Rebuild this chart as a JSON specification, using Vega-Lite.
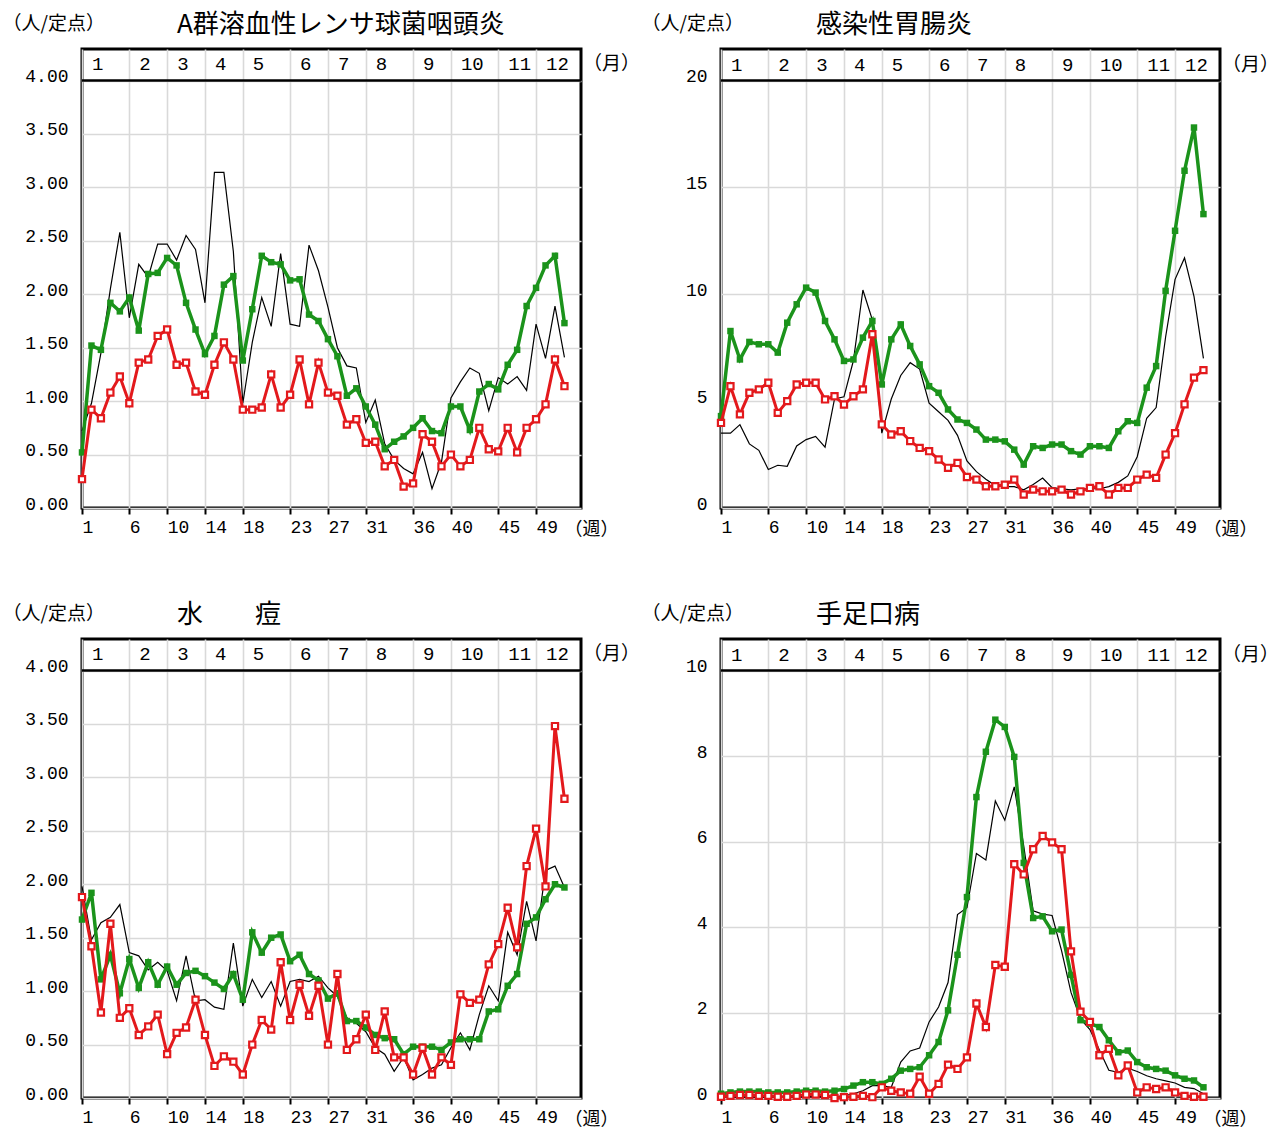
{
"$schema":"https://vega.github.io/schema/vega-lite/v6.json",
"background":"white",
"padding":{"left":0,"top":10,"right":5,"bottom":5},
"columns":2,
"spacing":{"row":131,"column":140},
"bounds":"flush",
"config":{
"view":{"stroke":"#000","strokeWidth":3},
"axis":{"gridColor":"#d9d9d9","gridWidth":1.6,"gridOpacity":1,"domain":false,"labelFont":"Liberation Mono","labelFontSize":18,"labelColor":"#000","titleFont":"Noto Sans CJK JP","titleFontSize":19,"titleFontWeight":"normal","titleColor":"#000"},
"axisX":{"ticks":true,"tickColor":"#000","tickSize":6,"tickWidth":2,"labelAlign":"left","labelPadding":4,"labelOffset":0,"labelBaseline":"top","labelOverlap":false,"labelFlush":false},
"axisY":{"ticks":false,"labelPadding":14,"labelBaseline":"middle","labelOffset":-4,"labelOverlap":false},
"title":{"font":"Noto Sans CJK JP","fontSize":26,"fontWeight":"normal","color":"#000","anchor":"start","frame":"group","dx":95,"offset":-24}
},
"datasets":{
"months":[{"m":"1","w":1},{"m":"2","w":6},{"m":"3","w":10},{"m":"4","w":14},{"m":"5","w":18},{"m":"6","w":23},{"m":"7","w":27},{"m":"8","w":31},{"m":"9","w":36},{"m":"10","w":40},{"m":"11","w":45},{"m":"12","w":49}],
"A":[
{"w":1,"s":"k","v":0.72},{"w":2,"s":"k","v":0.98},{"w":3,"s":"k","v":1.45},{"w":4,"s":"k","v":2.05},{"w":5,"s":"k","v":2.58},{"w":6,"s":"k","v":1.78},{"w":7,"s":"k","v":2.28},{"w":8,"s":"k","v":2.16},{"w":9,"s":"k","v":2.47},{"w":10,"s":"k","v":2.47},
{"w":11,"s":"k","v":2.32},{"w":12,"s":"k","v":2.55},{"w":13,"s":"k","v":2.42},{"w":14,"s":"k","v":1.92},{"w":15,"s":"k","v":3.14},{"w":16,"s":"k","v":3.14},{"w":17,"s":"k","v":2.40},{"w":18,"s":"k","v":0.98},{"w":19,"s":"k","v":1.55},{"w":20,"s":"k","v":1.97},
{"w":21,"s":"k","v":1.70},{"w":22,"s":"k","v":2.38},{"w":23,"s":"k","v":1.72},{"w":24,"s":"k","v":1.70},{"w":25,"s":"k","v":2.46},{"w":26,"s":"k","v":2.22},{"w":27,"s":"k","v":1.88},{"w":28,"s":"k","v":1.50},{"w":29,"s":"k","v":1.33},{"w":30,"s":"k","v":1.31},
{"w":31,"s":"k","v":0.80},{"w":32,"s":"k","v":1.01},{"w":33,"s":"k","v":0.60},{"w":34,"s":"k","v":0.45},{"w":35,"s":"k","v":0.37},{"w":36,"s":"k","v":0.32},{"w":37,"s":"k","v":0.52},{"w":38,"s":"k","v":0.18},{"w":39,"s":"k","v":0.43},{"w":40,"s":"k","v":1.03},
{"w":41,"s":"k","v":1.18},{"w":42,"s":"k","v":1.31},{"w":43,"s":"k","v":1.26},{"w":44,"s":"k","v":0.91},{"w":45,"s":"k","v":1.22},{"w":46,"s":"k","v":1.16},{"w":47,"s":"k","v":1.23},{"w":48,"s":"k","v":1.10},{"w":49,"s":"k","v":1.72},{"w":50,"s":"k","v":1.40},
{"w":51,"s":"k","v":1.89},{"w":52,"s":"k","v":1.41},
{"w":1,"s":"g","v":0.52},{"w":2,"s":"g","v":1.52},{"w":3,"s":"g","v":1.48},{"w":4,"s":"g","v":1.92},{"w":5,"s":"g","v":1.84},{"w":6,"s":"g","v":1.97},{"w":7,"s":"g","v":1.66},{"w":8,"s":"g","v":2.19},{"w":9,"s":"g","v":2.20},{"w":10,"s":"g","v":2.34},
{"w":11,"s":"g","v":2.27},{"w":12,"s":"g","v":1.92},{"w":13,"s":"g","v":1.67},{"w":14,"s":"g","v":1.44},{"w":15,"s":"g","v":1.61},{"w":16,"s":"g","v":2.09},{"w":17,"s":"g","v":2.17},{"w":18,"s":"g","v":1.38},{"w":19,"s":"g","v":1.86},{"w":20,"s":"g","v":2.36},
{"w":21,"s":"g","v":2.30},{"w":22,"s":"g","v":2.28},{"w":23,"s":"g","v":2.13},{"w":24,"s":"g","v":2.14},{"w":25,"s":"g","v":1.81},{"w":26,"s":"g","v":1.75},{"w":27,"s":"g","v":1.58},{"w":28,"s":"g","v":1.42},{"w":29,"s":"g","v":1.05},{"w":30,"s":"g","v":1.12},
{"w":31,"s":"g","v":0.95},{"w":32,"s":"g","v":0.78},{"w":33,"s":"g","v":0.55},{"w":34,"s":"g","v":0.62},{"w":35,"s":"g","v":0.67},{"w":36,"s":"g","v":0.75},{"w":37,"s":"g","v":0.84},{"w":38,"s":"g","v":0.72},{"w":39,"s":"g","v":0.70},{"w":40,"s":"g","v":0.95},
{"w":41,"s":"g","v":0.95},{"w":42,"s":"g","v":0.73},{"w":43,"s":"g","v":1.09},{"w":44,"s":"g","v":1.16},{"w":45,"s":"g","v":1.11},{"w":46,"s":"g","v":1.34},{"w":47,"s":"g","v":1.48},{"w":48,"s":"g","v":1.89},{"w":49,"s":"g","v":2.06},{"w":50,"s":"g","v":2.27},
{"w":51,"s":"g","v":2.36},{"w":52,"s":"g","v":1.73},
{"w":1,"s":"r","v":0.27},{"w":2,"s":"r","v":0.92},{"w":3,"s":"r","v":0.84},{"w":4,"s":"r","v":1.08},{"w":5,"s":"r","v":1.23},{"w":6,"s":"r","v":0.98},{"w":7,"s":"r","v":1.36},{"w":8,"s":"r","v":1.39},{"w":9,"s":"r","v":1.61},{"w":10,"s":"r","v":1.67},
{"w":11,"s":"r","v":1.34},{"w":12,"s":"r","v":1.36},{"w":13,"s":"r","v":1.09},{"w":14,"s":"r","v":1.06},{"w":15,"s":"r","v":1.34},{"w":16,"s":"r","v":1.55},{"w":17,"s":"r","v":1.39},{"w":18,"s":"r","v":0.92},{"w":19,"s":"r","v":0.92},{"w":20,"s":"r","v":0.94},
{"w":21,"s":"r","v":1.25},{"w":22,"s":"r","v":0.94},{"w":23,"s":"r","v":1.06},{"w":24,"s":"r","v":1.39},{"w":25,"s":"r","v":0.97},{"w":26,"s":"r","v":1.36},{"w":27,"s":"r","v":1.08},{"w":28,"s":"r","v":1.05},{"w":29,"s":"r","v":0.78},{"w":30,"s":"r","v":0.83},
{"w":31,"s":"r","v":0.61},{"w":32,"s":"r","v":0.62},{"w":33,"s":"r","v":0.39},{"w":34,"s":"r","v":0.45},{"w":35,"s":"r","v":0.20},{"w":36,"s":"r","v":0.23},{"w":37,"s":"r","v":0.69},{"w":38,"s":"r","v":0.62},{"w":39,"s":"r","v":0.39},{"w":40,"s":"r","v":0.50},
{"w":41,"s":"r","v":0.39},{"w":42,"s":"r","v":0.45},{"w":43,"s":"r","v":0.75},{"w":44,"s":"r","v":0.55},{"w":45,"s":"r","v":0.53},{"w":46,"s":"r","v":0.75},{"w":47,"s":"r","v":0.52},{"w":48,"s":"r","v":0.75},{"w":49,"s":"r","v":0.83},{"w":50,"s":"r","v":0.97},
{"w":51,"s":"r","v":1.39},{"w":52,"s":"r","v":1.14}
],
"B":[
{"w":1,"s":"k","v":3.5},{"w":2,"s":"k","v":3.5},{"w":3,"s":"k","v":3.9},{"w":4,"s":"k","v":3.0},{"w":5,"s":"k","v":2.7},{"w":6,"s":"k","v":1.8},{"w":7,"s":"k","v":2.0},{"w":8,"s":"k","v":1.95},{"w":9,"s":"k","v":2.9},{"w":10,"s":"k","v":3.2},
{"w":11,"s":"k","v":3.35},{"w":12,"s":"k","v":2.85},{"w":13,"s":"k","v":5.1},{"w":14,"s":"k","v":5.2},{"w":15,"s":"k","v":6.9},{"w":16,"s":"k","v":10.2},{"w":17,"s":"k","v":8.8},{"w":18,"s":"k","v":3.5},{"w":19,"s":"k","v":5.1},{"w":20,"s":"k","v":6.2},
{"w":21,"s":"k","v":6.8},{"w":22,"s":"k","v":6.5},{"w":23,"s":"k","v":4.9},{"w":24,"s":"k","v":4.5},{"w":25,"s":"k","v":4.1},{"w":26,"s":"k","v":3.4},{"w":27,"s":"k","v":2.2},{"w":28,"s":"k","v":1.7},{"w":29,"s":"k","v":1.35},{"w":30,"s":"k","v":1.05},
{"w":31,"s":"k","v":1.0},{"w":32,"s":"k","v":1.0},{"w":33,"s":"k","v":0.85},{"w":34,"s":"k","v":1.1},{"w":35,"s":"k","v":1.4},{"w":36,"s":"k","v":0.95},{"w":37,"s":"k","v":0.9},{"w":38,"s":"k","v":0.85},{"w":39,"s":"k","v":0.9},{"w":40,"s":"k","v":0.9},
{"w":41,"s":"k","v":0.9},{"w":42,"s":"k","v":1.0},{"w":43,"s":"k","v":1.2},{"w":44,"s":"k","v":1.5},{"w":45,"s":"k","v":2.4},{"w":46,"s":"k","v":4.2},{"w":47,"s":"k","v":4.7},{"w":48,"s":"k","v":8.0},{"w":49,"s":"k","v":10.7},{"w":50,"s":"k","v":11.7},
{"w":51,"s":"k","v":9.9},{"w":52,"s":"k","v":7.0},
{"w":1,"s":"g","v":4.3},{"w":2,"s":"g","v":8.28},{"w":3,"s":"g","v":6.95},{"w":4,"s":"g","v":7.77},{"w":5,"s":"g","v":7.66},{"w":6,"s":"g","v":7.66},{"w":7,"s":"g","v":7.27},{"w":8,"s":"g","v":8.67},{"w":9,"s":"g","v":9.53},{"w":10,"s":"g","v":10.31},
{"w":11,"s":"g","v":10.08},{"w":12,"s":"g","v":8.75},{"w":13,"s":"g","v":7.89},{"w":14,"s":"g","v":6.88},{"w":15,"s":"g","v":6.95},{"w":16,"s":"g","v":7.97},{"w":17,"s":"g","v":8.75},{"w":18,"s":"g","v":5.78},{"w":19,"s":"g","v":7.89},{"w":20,"s":"g","v":8.59},
{"w":21,"s":"g","v":7.58},{"w":22,"s":"g","v":6.72},{"w":23,"s":"g","v":5.70},{"w":24,"s":"g","v":5.39},{"w":25,"s":"g","v":4.61},{"w":26,"s":"g","v":4.14},{"w":27,"s":"g","v":3.98},{"w":28,"s":"g","v":3.67},{"w":29,"s":"g","v":3.20},{"w":30,"s":"g","v":3.20},
{"w":31,"s":"g","v":3.12},{"w":32,"s":"g","v":2.73},{"w":33,"s":"g","v":2.03},{"w":34,"s":"g","v":2.89},{"w":35,"s":"g","v":2.81},{"w":36,"s":"g","v":2.97},{"w":37,"s":"g","v":2.97},{"w":38,"s":"g","v":2.66},{"w":39,"s":"g","v":2.50},{"w":40,"s":"g","v":2.89},
{"w":41,"s":"g","v":2.89},{"w":42,"s":"g","v":2.81},{"w":43,"s":"g","v":3.59},{"w":44,"s":"g","v":4.06},{"w":45,"s":"g","v":3.98},{"w":46,"s":"g","v":5.63},{"w":47,"s":"g","v":6.64},{"w":48,"s":"g","v":10.16},{"w":49,"s":"g","v":12.97},{"w":50,"s":"g","v":15.78},
{"w":51,"s":"g","v":17.8},{"w":52,"s":"g","v":13.75},
{"w":1,"s":"r","v":3.98},{"w":2,"s":"r","v":5.70},{"w":3,"s":"r","v":4.38},{"w":4,"s":"r","v":5.39},{"w":5,"s":"r","v":5.55},{"w":6,"s":"r","v":5.86},{"w":7,"s":"r","v":4.45},{"w":8,"s":"r","v":5.0},{"w":9,"s":"r","v":5.78},{"w":10,"s":"r","v":5.86},
{"w":11,"s":"r","v":5.86},{"w":12,"s":"r","v":5.08},{"w":13,"s":"r","v":5.23},{"w":14,"s":"r","v":4.84},{"w":15,"s":"r","v":5.23},{"w":16,"s":"r","v":5.55},{"w":17,"s":"r","v":8.13},{"w":18,"s":"r","v":3.91},{"w":19,"s":"r","v":3.44},{"w":20,"s":"r","v":3.59},
{"w":21,"s":"r","v":3.13},{"w":22,"s":"r","v":2.81},{"w":23,"s":"r","v":2.66},{"w":24,"s":"r","v":2.27},{"w":25,"s":"r","v":1.88},{"w":26,"s":"r","v":2.11},{"w":27,"s":"r","v":1.45},{"w":28,"s":"r","v":1.33},{"w":29,"s":"r","v":1.02},{"w":30,"s":"r","v":1.02},
{"w":31,"s":"r","v":1.09},{"w":32,"s":"r","v":1.33},{"w":33,"s":"r","v":0.63},{"w":34,"s":"r","v":0.86},{"w":35,"s":"r","v":0.78},{"w":36,"s":"r","v":0.78},{"w":37,"s":"r","v":0.86},{"w":38,"s":"r","v":0.63},{"w":39,"s":"r","v":0.78},{"w":40,"s":"r","v":0.94},
{"w":41,"s":"r","v":1.02},{"w":42,"s":"r","v":0.63},{"w":43,"s":"r","v":0.94},{"w":44,"s":"r","v":0.94},{"w":45,"s":"r","v":1.33},{"w":46,"s":"r","v":1.56},{"w":47,"s":"r","v":1.41},{"w":48,"s":"r","v":2.5},{"w":49,"s":"r","v":3.5},{"w":50,"s":"r","v":4.85},
{"w":51,"s":"r","v":6.1},{"w":52,"s":"r","v":6.45}
],
"C":[
{"w":1,"s":"k","v":1.98},{"w":2,"s":"k","v":1.48},{"w":3,"s":"k","v":1.64},{"w":4,"s":"k","v":1.69},{"w":5,"s":"k","v":1.81},{"w":6,"s":"k","v":1.36},{"w":7,"s":"k","v":1.33},{"w":8,"s":"k","v":1.20},{"w":9,"s":"k","v":1.27},{"w":10,"s":"k","v":1.19},
{"w":11,"s":"k","v":0.91},{"w":12,"s":"k","v":1.33},{"w":13,"s":"k","v":0.91},{"w":14,"s":"k","v":0.92},{"w":15,"s":"k","v":0.85},{"w":16,"s":"k","v":0.83},{"w":17,"s":"k","v":1.45},{"w":18,"s":"k","v":0.86},{"w":19,"s":"k","v":1.11},{"w":20,"s":"k","v":0.94},
{"w":21,"s":"k","v":1.09},{"w":22,"s":"k","v":0.86},{"w":23,"s":"k","v":1.09},{"w":24,"s":"k","v":1.11},{"w":25,"s":"k","v":1.09},{"w":26,"s":"k","v":1.14},{"w":27,"s":"k","v":1.03},{"w":28,"s":"k","v":0.95},{"w":29,"s":"k","v":0.75},{"w":30,"s":"k","v":0.70},
{"w":31,"s":"k","v":0.62},{"w":32,"s":"k","v":0.47},{"w":33,"s":"k","v":0.41},{"w":34,"s":"k","v":0.25},{"w":35,"s":"k","v":0.38},{"w":36,"s":"k","v":0.17},{"w":37,"s":"k","v":0.22},{"w":38,"s":"k","v":0.28},{"w":39,"s":"k","v":0.31},{"w":40,"s":"k","v":0.47},
{"w":41,"s":"k","v":0.61},{"w":42,"s":"k","v":0.45},{"w":43,"s":"k","v":0.78},{"w":44,"s":"k","v":1.05},{"w":45,"s":"k","v":0.91},{"w":46,"s":"k","v":1.55},{"w":47,"s":"k","v":1.34},{"w":48,"s":"k","v":1.84},{"w":49,"s":"k","v":1.47},{"w":50,"s":"k","v":2.13},
{"w":51,"s":"k","v":2.17},{"w":52,"s":"k","v":1.97},
{"w":1,"s":"g","v":1.67},{"w":2,"s":"g","v":1.92},{"w":3,"s":"g","v":1.11},{"w":4,"s":"g","v":1.34},{"w":5,"s":"g","v":0.98},{"w":6,"s":"g","v":1.30},{"w":7,"s":"g","v":1.03},{"w":8,"s":"g","v":1.27},{"w":9,"s":"g","v":1.06},{"w":10,"s":"g","v":1.23},
{"w":11,"s":"g","v":1.06},{"w":12,"s":"g","v":1.17},{"w":13,"s":"g","v":1.19},{"w":14,"s":"g","v":1.14},{"w":15,"s":"g","v":1.08},{"w":16,"s":"g","v":1.02},{"w":17,"s":"g","v":1.16},{"w":18,"s":"g","v":0.92},{"w":19,"s":"g","v":1.55},{"w":20,"s":"g","v":1.36},
{"w":21,"s":"g","v":1.50},{"w":22,"s":"g","v":1.53},{"w":23,"s":"g","v":1.28},{"w":24,"s":"g","v":1.34},{"w":25,"s":"g","v":1.16},{"w":26,"s":"g","v":1.10},{"w":27,"s":"g","v":0.93},{"w":28,"s":"g","v":0.98},{"w":29,"s":"g","v":0.72},{"w":30,"s":"g","v":0.72},
{"w":31,"s":"g","v":0.66},{"w":32,"s":"g","v":0.59},{"w":33,"s":"g","v":0.56},{"w":34,"s":"g","v":0.55},{"w":35,"s":"g","v":0.41},{"w":36,"s":"g","v":0.48},{"w":37,"s":"g","v":0.48},{"w":38,"s":"g","v":0.48},{"w":39,"s":"g","v":0.45},{"w":40,"s":"g","v":0.52},
{"w":41,"s":"g","v":0.55},{"w":42,"s":"g","v":0.55},{"w":43,"s":"g","v":0.55},{"w":44,"s":"g","v":0.81},{"w":45,"s":"g","v":0.83},{"w":46,"s":"g","v":1.05},{"w":47,"s":"g","v":1.16},{"w":48,"s":"g","v":1.63},{"w":49,"s":"g","v":1.69},{"w":50,"s":"g","v":1.86},
{"w":51,"s":"g","v":2.0},{"w":52,"s":"g","v":1.97},
{"w":1,"s":"r","v":1.88},{"w":2,"s":"r","v":1.42},{"w":3,"s":"r","v":0.80},{"w":4,"s":"r","v":1.63},{"w":5,"s":"r","v":0.75},{"w":6,"s":"r","v":0.84},{"w":7,"s":"r","v":0.59},{"w":8,"s":"r","v":0.67},{"w":9,"s":"r","v":0.78},{"w":10,"s":"r","v":0.41},
{"w":11,"s":"r","v":0.61},{"w":12,"s":"r","v":0.66},{"w":13,"s":"r","v":0.92},{"w":14,"s":"r","v":0.59},{"w":15,"s":"r","v":0.30},{"w":16,"s":"r","v":0.39},{"w":17,"s":"r","v":0.34},{"w":18,"s":"r","v":0.22},{"w":19,"s":"r","v":0.50},{"w":20,"s":"r","v":0.73},
{"w":21,"s":"r","v":0.64},{"w":22,"s":"r","v":1.27},{"w":23,"s":"r","v":0.73},{"w":24,"s":"r","v":1.06},{"w":25,"s":"r","v":0.77},{"w":26,"s":"r","v":1.05},{"w":27,"s":"r","v":0.50},{"w":28,"s":"r","v":1.16},{"w":29,"s":"r","v":0.45},{"w":30,"s":"r","v":0.55},
{"w":31,"s":"r","v":0.78},{"w":32,"s":"r","v":0.45},{"w":33,"s":"r","v":0.81},{"w":34,"s":"r","v":0.38},{"w":35,"s":"r","v":0.38},{"w":36,"s":"r","v":0.22},{"w":37,"s":"r","v":0.47},{"w":38,"s":"r","v":0.22},{"w":39,"s":"r","v":0.38},{"w":40,"s":"r","v":0.31},
{"w":41,"s":"r","v":0.97},{"w":42,"s":"r","v":0.89},{"w":43,"s":"r","v":0.92},{"w":44,"s":"r","v":1.25},{"w":45,"s":"r","v":1.44},{"w":46,"s":"r","v":1.78},{"w":47,"s":"r","v":1.41},{"w":48,"s":"r","v":2.17},{"w":49,"s":"r","v":2.52},{"w":50,"s":"r","v":1.98},
{"w":51,"s":"r","v":3.48},{"w":52,"s":"r","v":2.80}
],
"D":[
{"w":1,"s":"k","v":0.02},{"w":2,"s":"k","v":0.02},{"w":3,"s":"k","v":0.02},{"w":4,"s":"k","v":0.02},{"w":5,"s":"k","v":0.02},{"w":6,"s":"k","v":0.02},{"w":7,"s":"k","v":0.02},{"w":8,"s":"k","v":0.02},{"w":9,"s":"k","v":0.03},{"w":10,"s":"k","v":0.03},
{"w":11,"s":"k","v":0.03},{"w":12,"s":"k","v":0.03},{"w":13,"s":"k","v":0.03},{"w":14,"s":"k","v":0.05},{"w":15,"s":"k","v":0.1},{"w":16,"s":"k","v":0.17},{"w":17,"s":"k","v":0.29},{"w":18,"s":"k","v":0.29},{"w":19,"s":"k","v":0.25},{"w":20,"s":"k","v":0.84},
{"w":21,"s":"k","v":1.1},{"w":22,"s":"k","v":1.17},{"w":23,"s":"k","v":1.78},{"w":24,"s":"k","v":2.13},{"w":25,"s":"k","v":2.7},{"w":26,"s":"k","v":4.29},{"w":27,"s":"k","v":4.45},{"w":28,"s":"k","v":5.72},{"w":29,"s":"k","v":5.57},{"w":30,"s":"k","v":6.95},
{"w":31,"s":"k","v":6.5},{"w":32,"s":"k","v":7.28},{"w":33,"s":"k","v":5.9},{"w":34,"s":"k","v":4.38},{"w":35,"s":"k","v":4.3},{"w":36,"s":"k","v":4.27},{"w":37,"s":"k","v":3.45},{"w":38,"s":"k","v":2.47},{"w":39,"s":"k","v":1.85},{"w":40,"s":"k","v":1.6},
{"w":41,"s":"k","v":1.12},{"w":42,"s":"k","v":0.65},{"w":43,"s":"k","v":0.6},{"w":44,"s":"k","v":0.7},{"w":45,"s":"k","v":0.62},{"w":46,"s":"k","v":0.52},{"w":47,"s":"k","v":0.45},{"w":48,"s":"k","v":0.4},{"w":49,"s":"k","v":0.35},{"w":50,"s":"k","v":0.25},
{"w":51,"s":"k","v":0.22},{"w":52,"s":"k","v":0.1},
{"w":1,"s":"g","v":0.1},{"w":2,"s":"g","v":0.13},{"w":3,"s":"g","v":0.15},{"w":4,"s":"g","v":0.15},{"w":5,"s":"g","v":0.15},{"w":6,"s":"g","v":0.13},{"w":7,"s":"g","v":0.13},{"w":8,"s":"g","v":0.13},{"w":9,"s":"g","v":0.15},{"w":10,"s":"g","v":0.17},
{"w":11,"s":"g","v":0.17},{"w":12,"s":"g","v":0.15},{"w":13,"s":"g","v":0.17},{"w":14,"s":"g","v":0.21},{"w":15,"s":"g","v":0.29},{"w":16,"s":"g","v":0.37},{"w":17,"s":"g","v":0.37},{"w":18,"s":"g","v":0.33},{"w":19,"s":"g","v":0.45},{"w":20,"s":"g","v":0.64},
{"w":21,"s":"g","v":0.68},{"w":22,"s":"g","v":0.72},{"w":23,"s":"g","v":1.0},{"w":24,"s":"g","v":1.31},{"w":25,"s":"g","v":2.05},{"w":26,"s":"g","v":3.35},{"w":27,"s":"g","v":4.7},{"w":28,"s":"g","v":7.04},{"w":29,"s":"g","v":8.1},{"w":30,"s":"g","v":8.85},
{"w":31,"s":"g","v":8.68},{"w":32,"s":"g","v":7.98},{"w":33,"s":"g","v":5.5},{"w":34,"s":"g","v":4.21},{"w":35,"s":"g","v":4.25},{"w":36,"s":"g","v":3.9},{"w":37,"s":"g","v":3.94},{"w":38,"s":"g","v":2.88},{"w":39,"s":"g","v":1.82},{"w":40,"s":"g","v":1.74},
{"w":41,"s":"g","v":1.66},{"w":42,"s":"g","v":1.35},{"w":43,"s":"g","v":1.07},{"w":44,"s":"g","v":1.11},{"w":45,"s":"g","v":0.84},{"w":46,"s":"g","v":0.72},{"w":47,"s":"g","v":0.68},{"w":48,"s":"g","v":0.64},{"w":49,"s":"g","v":0.53},{"w":50,"s":"g","v":0.45},
{"w":51,"s":"g","v":0.41},{"w":52,"s":"g","v":0.25},
{"w":1,"s":"r","v":0.03},{"w":2,"s":"r","v":0.05},{"w":3,"s":"r","v":0.07},{"w":4,"s":"r","v":0.07},{"w":5,"s":"r","v":0.05},{"w":6,"s":"r","v":0.05},{"w":7,"s":"r","v":0.03},{"w":8,"s":"r","v":0.03},{"w":9,"s":"r","v":0.05},{"w":10,"s":"r","v":0.08},
{"w":11,"s":"r","v":0.08},{"w":12,"s":"r","v":0.07},{"w":13,"s":"r","v":0.0},{"w":14,"s":"r","v":0.02},{"w":15,"s":"r","v":0.03},{"w":16,"s":"r","v":0.05},{"w":17,"s":"r","v":0.02},{"w":18,"s":"r","v":0.25},{"w":19,"s":"r","v":0.17},{"w":20,"s":"r","v":0.13},
{"w":21,"s":"r","v":0.1},{"w":22,"s":"r","v":0.5},{"w":23,"s":"r","v":0.1},{"w":24,"s":"r","v":0.33},{"w":25,"s":"r","v":0.78},{"w":26,"s":"r","v":0.68},{"w":27,"s":"r","v":0.95},{"w":28,"s":"r","v":2.21},{"w":29,"s":"r","v":1.66},{"w":30,"s":"r","v":3.11},
{"w":31,"s":"r","v":3.07},{"w":32,"s":"r","v":5.47},{"w":33,"s":"r","v":5.23},{"w":34,"s":"r","v":5.82},{"w":35,"s":"r","v":6.13},{"w":36,"s":"r","v":5.98},{"w":37,"s":"r","v":5.82},{"w":38,"s":"r","v":3.43},{"w":39,"s":"r","v":2.02},{"w":40,"s":"r","v":1.78},
{"w":41,"s":"r","v":1.0},{"w":42,"s":"r","v":1.15},{"w":43,"s":"r","v":0.53},{"w":44,"s":"r","v":0.76},{"w":45,"s":"r","v":0.13},{"w":46,"s":"r","v":0.25},{"w":47,"s":"r","v":0.21},{"w":48,"s":"r","v":0.25},{"w":49,"s":"r","v":0.13},{"w":50,"s":"r","v":0.05},
{"w":51,"s":"r","v":0.03},{"w":52,"s":"r","v":0.03}
]
},
"concat":[
{"width":499,"height":459,"title":{"text":"A群溶血性レンサ球菌咽頭炎"},
"layer":[
{"data":{"name":"A"},"transform":[{"filter":"datum.s=='k'"}],"mark":{"type":"line","color":"#000","strokeWidth":1.2},
"encoding":{"x":{"field":"w","type":"quantitative","scale":{"domain":[1,53.75],"nice":false,"zero":false},"axis":{"values":[1,6,10,14,18,23,27,31,36,40,45,49],"title":"（週）","titleX":482,"titleY":21,"titleAlign":"left","titleBaseline":"middle","titleFontSize":18}},
"y":{"field":"v","type":"quantitative","scale":{"domain":[0,4.295],"nice":false,"zero":false},"axis":{"values":[0,0.5,1,1.5,2,2.5,3,3.5,4],"format":".2f","title":"（人/定点）","titleX":-80,"titleY":-26,"titleAngle":0,"titleAlign":"left","titleBaseline":"middle"}}}},
{"data":{"name":"A"},"transform":[{"filter":"datum.s=='g'"}],"mark":{"type":"line","color":"#1b931b","strokeWidth":3.5},"encoding":{"x":{"field":"w","type":"quantitative"},"y":{"field":"v","type":"quantitative"}}},
{"data":{"name":"A"},"transform":[{"filter":"datum.s=='g'"}],"mark":{"type":"point","shape":"square","filled":true,"color":"#1b931b","size":42,"opacity":1},"encoding":{"x":{"field":"w","type":"quantitative"},"y":{"field":"v","type":"quantitative"}}},
{"data":{"name":"A"},"transform":[{"filter":"datum.s=='r'"}],"mark":{"type":"line","color":"#e3191c","strokeWidth":3},"encoding":{"x":{"field":"w","type":"quantitative"},"y":{"field":"v","type":"quantitative"}}},
{"data":{"name":"A"},"transform":[{"filter":"datum.s=='r'"}],"mark":{"type":"point","shape":"square","filled":true,"fill":"white","stroke":"#e3191c","strokeWidth":2.2,"size":38,"opacity":1},"encoding":{"x":{"field":"w","type":"quantitative"},"y":{"field":"v","type":"quantitative"}}},
{"data":{"name":"months"},"mark":{"type":"text","align":"left","baseline":"middle","dx":10,"font":"Liberation Mono","fontSize":19,"color":"#000"},"encoding":{"x":{"field":"w","type":"quantitative"},"y":{"datum":4.15},"text":{"field":"m"}}},
{"data":{"values":[{}]},"mark":{"type":"rule","color":"#000","strokeWidth":2.5},"encoding":{"y":{"datum":4}}},
{"data":{"values":[{}]},"mark":{"type":"text","text":"（月）","align":"left","baseline":"middle","font":"Noto Sans CJK JP","fontSize":19,"color":"#000"},"encoding":{"x":{"datum":53.95},"y":{"datum":4.15}}}
]},
{"width":499,"height":459,"title":{"text":"感染性胃腸炎"},
"layer":[
{"data":{"name":"B"},"transform":[{"filter":"datum.s=='k'"}],"mark":{"type":"line","color":"#000","strokeWidth":1.2},
"encoding":{"x":{"field":"w","type":"quantitative","scale":{"domain":[1,53.75],"nice":false,"zero":false},"axis":{"values":[1,6,10,14,18,23,27,31,36,40,45,49],"title":"（週）","titleX":482,"titleY":21,"titleAlign":"left","titleBaseline":"middle","titleFontSize":18}},
"y":{"field":"v","type":"quantitative","scale":{"domain":[0,21.475],"nice":false,"zero":false},"axis":{"values":[0,5,10,15,20],"format":"d","title":"（人/定点）","titleX":-80,"titleY":-26,"titleAngle":0,"titleAlign":"left","titleBaseline":"middle"}}}},
{"data":{"name":"B"},"transform":[{"filter":"datum.s=='g'"}],"mark":{"type":"line","color":"#1b931b","strokeWidth":3.5},"encoding":{"x":{"field":"w","type":"quantitative"},"y":{"field":"v","type":"quantitative"}}},
{"data":{"name":"B"},"transform":[{"filter":"datum.s=='g'"}],"mark":{"type":"point","shape":"square","filled":true,"color":"#1b931b","size":42,"opacity":1},"encoding":{"x":{"field":"w","type":"quantitative"},"y":{"field":"v","type":"quantitative"}}},
{"data":{"name":"B"},"transform":[{"filter":"datum.s=='r'"}],"mark":{"type":"line","color":"#e3191c","strokeWidth":3},"encoding":{"x":{"field":"w","type":"quantitative"},"y":{"field":"v","type":"quantitative"}}},
{"data":{"name":"B"},"transform":[{"filter":"datum.s=='r'"}],"mark":{"type":"point","shape":"square","filled":true,"fill":"white","stroke":"#e3191c","strokeWidth":2.2,"size":38,"opacity":1},"encoding":{"x":{"field":"w","type":"quantitative"},"y":{"field":"v","type":"quantitative"}}},
{"data":{"name":"months"},"mark":{"type":"text","align":"left","baseline":"middle","dx":10,"font":"Liberation Mono","fontSize":19,"color":"#000"},"encoding":{"x":{"field":"w","type":"quantitative"},"y":{"datum":20.74},"text":{"field":"m"}}},
{"data":{"values":[{}]},"mark":{"type":"rule","color":"#000","strokeWidth":2.5},"encoding":{"y":{"datum":20}}},
{"data":{"values":[{}]},"mark":{"type":"text","text":"（月）","align":"left","baseline":"middle","font":"Noto Sans CJK JP","fontSize":19,"color":"#000"},"encoding":{"x":{"datum":53.95},"y":{"datum":20.74}}}
]},
{"width":499,"height":459,"title":{"text":"水　　痘"},
"layer":[
{"data":{"name":"C"},"transform":[{"filter":"datum.s=='k'"}],"mark":{"type":"line","color":"#000","strokeWidth":1.2},
"encoding":{"x":{"field":"w","type":"quantitative","scale":{"domain":[1,53.75],"nice":false,"zero":false},"axis":{"values":[1,6,10,14,18,23,27,31,36,40,45,49],"title":"（週）","titleX":482,"titleY":21,"titleAlign":"left","titleBaseline":"middle","titleFontSize":18}},
"y":{"field":"v","type":"quantitative","scale":{"domain":[0,4.295],"nice":false,"zero":false},"axis":{"values":[0,0.5,1,1.5,2,2.5,3,3.5,4],"format":".2f","title":"（人/定点）","titleX":-80,"titleY":-26,"titleAngle":0,"titleAlign":"left","titleBaseline":"middle"}}}},
{"data":{"name":"C"},"transform":[{"filter":"datum.s=='g'"}],"mark":{"type":"line","color":"#1b931b","strokeWidth":3.5},"encoding":{"x":{"field":"w","type":"quantitative"},"y":{"field":"v","type":"quantitative"}}},
{"data":{"name":"C"},"transform":[{"filter":"datum.s=='g'"}],"mark":{"type":"point","shape":"square","filled":true,"color":"#1b931b","size":42,"opacity":1},"encoding":{"x":{"field":"w","type":"quantitative"},"y":{"field":"v","type":"quantitative"}}},
{"data":{"name":"C"},"transform":[{"filter":"datum.s=='r'"}],"mark":{"type":"line","color":"#e3191c","strokeWidth":3},"encoding":{"x":{"field":"w","type":"quantitative"},"y":{"field":"v","type":"quantitative"}}},
{"data":{"name":"C"},"transform":[{"filter":"datum.s=='r'"}],"mark":{"type":"point","shape":"square","filled":true,"fill":"white","stroke":"#e3191c","strokeWidth":2.2,"size":38,"opacity":1},"encoding":{"x":{"field":"w","type":"quantitative"},"y":{"field":"v","type":"quantitative"}}},
{"data":{"name":"months"},"mark":{"type":"text","align":"left","baseline":"middle","dx":10,"font":"Liberation Mono","fontSize":19,"color":"#000"},"encoding":{"x":{"field":"w","type":"quantitative"},"y":{"datum":4.15},"text":{"field":"m"}}},
{"data":{"values":[{}]},"mark":{"type":"rule","color":"#000","strokeWidth":2.5},"encoding":{"y":{"datum":4}}},
{"data":{"values":[{}]},"mark":{"type":"text","text":"（月）","align":"left","baseline":"middle","font":"Noto Sans CJK JP","fontSize":19,"color":"#000"},"encoding":{"x":{"datum":53.95},"y":{"datum":4.15}}}
]},
{"width":499,"height":459,"title":{"text":"手足口病"},
"layer":[
{"data":{"name":"D"},"transform":[{"filter":"datum.s=='k'"}],"mark":{"type":"line","color":"#000","strokeWidth":1.2},
"encoding":{"x":{"field":"w","type":"quantitative","scale":{"domain":[1,53.75],"nice":false,"zero":false},"axis":{"values":[1,6,10,14,18,23,27,31,36,40,45,49],"title":"（週）","titleX":482,"titleY":21,"titleAlign":"left","titleBaseline":"middle","titleFontSize":18}},
"y":{"field":"v","type":"quantitative","scale":{"domain":[0,10.7375],"nice":false,"zero":false},"axis":{"values":[0,2,4,6,8,10],"format":"d","title":"（人/定点）","titleX":-80,"titleY":-26,"titleAngle":0,"titleAlign":"left","titleBaseline":"middle"}}}},
{"data":{"name":"D"},"transform":[{"filter":"datum.s=='g'"}],"mark":{"type":"line","color":"#1b931b","strokeWidth":3.5},"encoding":{"x":{"field":"w","type":"quantitative"},"y":{"field":"v","type":"quantitative"}}},
{"data":{"name":"D"},"transform":[{"filter":"datum.s=='g'"}],"mark":{"type":"point","shape":"square","filled":true,"color":"#1b931b","size":42,"opacity":1},"encoding":{"x":{"field":"w","type":"quantitative"},"y":{"field":"v","type":"quantitative"}}},
{"data":{"name":"D"},"transform":[{"filter":"datum.s=='r'"}],"mark":{"type":"line","color":"#e3191c","strokeWidth":3},"encoding":{"x":{"field":"w","type":"quantitative"},"y":{"field":"v","type":"quantitative"}}},
{"data":{"name":"D"},"transform":[{"filter":"datum.s=='r'"}],"mark":{"type":"point","shape":"square","filled":true,"fill":"white","stroke":"#e3191c","strokeWidth":2.2,"size":38,"opacity":1},"encoding":{"x":{"field":"w","type":"quantitative"},"y":{"field":"v","type":"quantitative"}}},
{"data":{"name":"months"},"mark":{"type":"text","align":"left","baseline":"middle","dx":10,"font":"Liberation Mono","fontSize":19,"color":"#000"},"encoding":{"x":{"field":"w","type":"quantitative"},"y":{"datum":10.37},"text":{"field":"m"}}},
{"data":{"values":[{}]},"mark":{"type":"rule","color":"#000","strokeWidth":2.5},"encoding":{"y":{"datum":10}}},
{"data":{"values":[{}]},"mark":{"type":"text","text":"（月）","align":"left","baseline":"middle","font":"Noto Sans CJK JP","fontSize":19,"color":"#000"},"encoding":{"x":{"datum":53.95},"y":{"datum":10.37}}}
]}
]
}
